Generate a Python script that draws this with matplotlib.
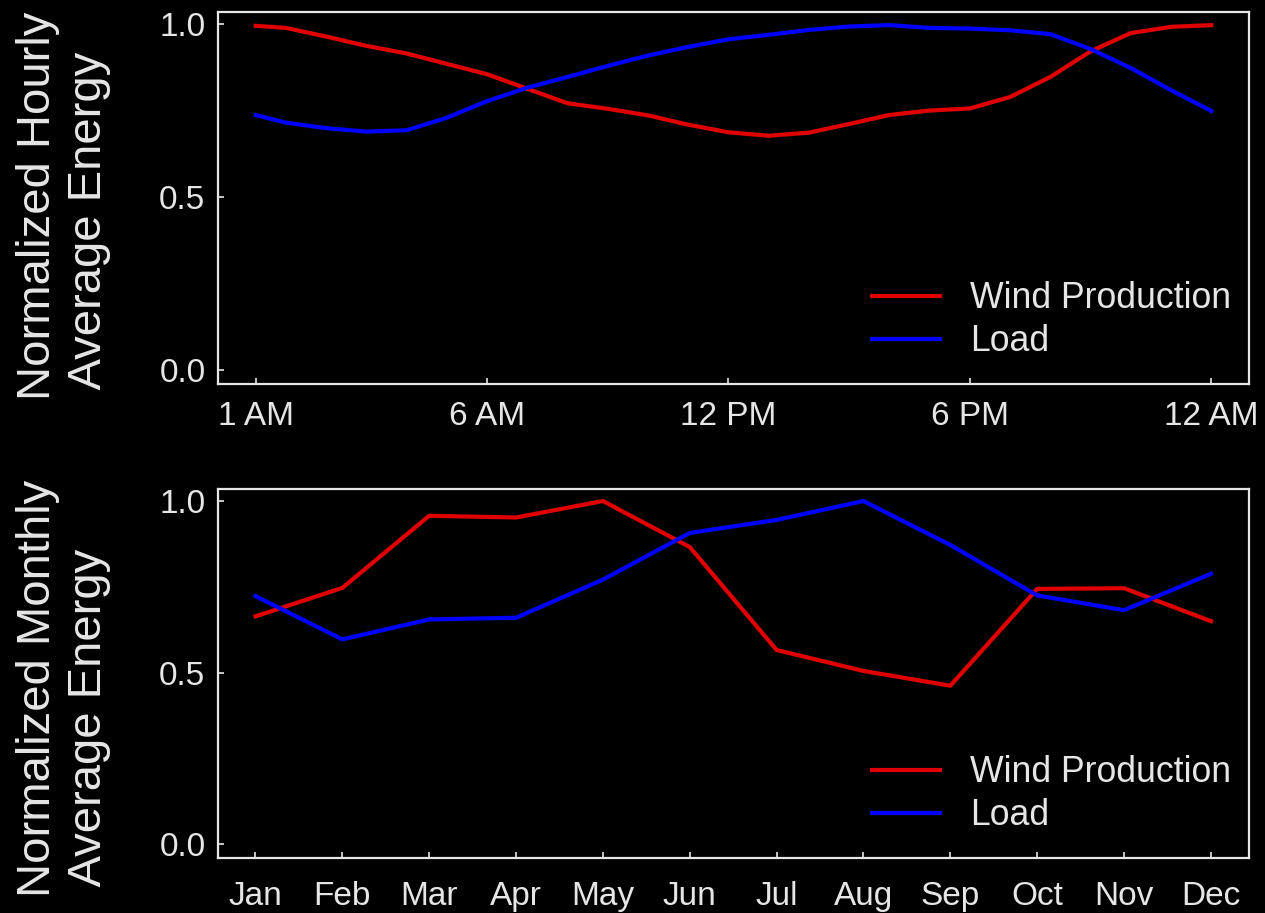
import matplotlib
matplotlib.use("Agg")
import matplotlib.pyplot as plt

plt.rcParams['font.family'] = ['Liberation Sans', 'DejaVu Sans']

# hourly profile, x is the 15-minute step index (1..96), read every hour
hour_idx = [1, 4, 8, 12, 16, 20, 24, 28, 32, 36, 40, 44, 48,
            52, 56, 60, 64, 68, 72, 76, 80, 84, 88, 92, 96]
wind_hourly = [0.996, 0.990, 0.965, 0.938, 0.916, 0.886, 0.856, 0.814, 0.772,
               0.756, 0.737, 0.710, 0.688, 0.678, 0.687, 0.712, 0.738, 0.751,
               0.757, 0.790, 0.848, 0.922, 0.975, 0.993, 0.998]
load_hourly = [0.738, 0.716, 0.700, 0.690, 0.694, 0.730, 0.778, 0.817, 0.848,
               0.880, 0.910, 0.935, 0.957, 0.970, 0.984, 0.994, 0.998, 0.990,
               0.988, 0.983, 0.972, 0.929, 0.874, 0.810, 0.750]
hour_ticks = [1, 24, 48, 72, 96]
hour_labels = ['1 AM', '6 AM', '12 PM', '6 PM', '12 AM']

months = ['Jan', 'Feb', 'Mar', 'Apr', 'May', 'Jun',
          'Jul', 'Aug', 'Sep', 'Oct', 'Nov', 'Dec']
wind_monthly = [0.664, 0.747, 0.957, 0.952, 1.0, 0.866,
                0.566, 0.505, 0.462, 0.744, 0.746, 0.650]
load_monthly = [0.723, 0.597, 0.655, 0.660, 0.771, 0.907,
                0.945, 1.0, 0.872, 0.725, 0.682, 0.788]

red = '#e00000'
blue = '#0000ff'
fg = '#e6e6e6'

fig = plt.figure(figsize=(12.65, 9.13), dpi=100, facecolor='black')
ax1 = fig.add_axes([0.1723, 0.5794, 0.8154, 0.4071])
ax2 = fig.add_axes([0.1723, 0.0602, 0.8154, 0.4042])


def style(ax, xpad):
    ax.set_facecolor('black')
    for s in ax.spines.values():
        s.set_color(fg)
        s.set_linewidth(1.6)
    ax.tick_params(direction='in', length=4, width=1.2, colors=fg,
                   labelsize=24, pad=9)
    ax.tick_params(axis='x', pad=xpad)
    ax.set_ylim(-0.04, 1.035)
    ax.set_yticks([0.0, 0.5, 1.0])
    ax.set_yticklabels(['0.0', '0.5', '1.0'])


ax1.plot(hour_idx, wind_hourly, color=red, lw=3, label='Wind Production')
ax1.plot(hour_idx, load_hourly, color=blue, lw=3, label='Load')
style(ax1, 12.5)
ax1.set_xlim(-2.75, 99.8)
ax1.set_xticks(hour_ticks)
ax1.set_xticklabels(hour_labels)
ax1.set_ylabel('Normalized Hourly\n Average Energy', fontsize=34, color=fg,
               multialignment='left')
ax1.yaxis.set_label_coords(-0.104, 0.48)

x_m = list(range(1, 13))
ax2.plot(x_m, wind_monthly, color=red, lw=3, label='Wind Production')
ax2.plot(x_m, load_monthly, color=blue, lw=3, label='Load')
style(ax2, 16.5)
ax2.set_xlim(1 - 37.5 / 86.8, 12 + 38.5 / 86.8)
ax2.set_xticks(x_m)
ax2.set_xticklabels(months)
ax2.set_ylabel('Normalized Monthly\n Average Energy', fontsize=34, color=fg,
               multialignment='left')
ax2.yaxis.set_label_coords(-0.104, 0.46)

for ax in (ax1, ax2):
    leg = ax.legend(loc='lower right', bbox_to_anchor=(1.0, 0.019),
                    frameon=False, fontsize=25.7, handlelength=1.9,
                    handletextpad=0.85, labelspacing=0.22, borderaxespad=0.1)
    for t in leg.get_texts():
        t.set_color(fg)

fig.savefig('out.png', dpi=100, facecolor='black')
